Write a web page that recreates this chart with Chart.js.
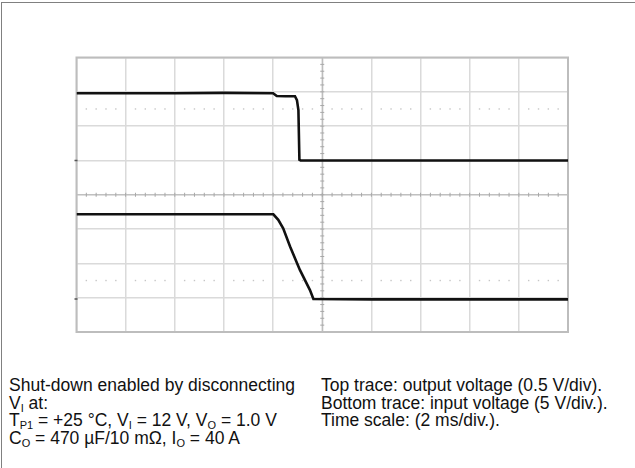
<!DOCTYPE html>
<html>
<head>
<meta charset="utf-8">
<script src="https://cdn.jsdelivr.net/npm/chart.js@4/dist/chart.umd.min.js"></script>
<style>
    html, body { margin: 0; padding: 0; background: #fff; }
    #page {
        position: relative;
        width: 635px;
        height: 468px;
        overflow: hidden;
        background: #fff;
        font-family: "Liberation Sans", Arial, sans-serif;
        color: #111;
    }
    #frame {
        position: absolute;
        left: 1px; top: 2px; right: -10px; bottom: -10px;
        border-top: 1px solid #808080;
        border-left: 1px solid #808080;
    }
    #scope { position: absolute; left: 0; top: 0; }
    .caption {
        position: absolute;
        top: 377px;
        font-size: 17.5px;
        line-height: 17.7px;
        white-space: nowrap;
    }
    .caption sub {
        font-size: 11px;
        vertical-align: -3px;
        line-height: 0;
    }
</style>
</head>
<body>
<div id="page">
    <div id="frame"></div>
    <canvas id="scope" width="635" height="345"></canvas>
    <div class="caption" style="left:9px;">
        Shut-down enabled by disconnecting<br>
        V<sub>I</sub> at:<br>
        T<sub>P1</sub> = +25 °C, V<sub>I</sub> = 12 V, V<sub>O</sub> = 1.0 V<br>
        C<sub>O</sub> = 470 µF/10 mΩ, I<sub>O</sub> = 40 A
    </div>
    <div class="caption" style="left:321px;">
        Top trace: output voltage (0.5 V/div).<br>
        Bottom trace: input voltage (5 V/div.).<br>
        Time scale: (2 ms/div.).
    </div>
</div>

<script>
// time in ms (2 ms/div), level in screen divisions (0 = bottom, 8 = top)
const topTime    = [0, 2, 4, 6, 8.0, 8.15, 8.5, 8.89, 8.97, 9.03, 9.07, 9.12, 12, 16, 20];
const topLevel   = [6.96, 6.96, 6.96, 6.97, 6.96, 6.88, 6.87, 6.87, 6.76, 6.47, 5.02, 5.0, 5.0, 5.0, 5.0];

const bottomTime  = [0, 4, 8.01, 8.21, 8.41, 8.69, 9.09, 9.50, 9.64, 12, 16, 20];
const bottomLevel = [3.43, 3.43, 3.43, 3.27, 3.02, 2.49, 1.81, 1.22, 0.96, 0.95, 0.95, 0.95];

// x grid: 0..20 ms every 2 ms, y grid: 0..8 div
const timeTicks  = [0, 2, 4, 6, 8, 10, 12, 14, 16, 18, 20];
const levelTicks = [0, 1, 2, 3, 4, 5, 6, 7, 8];

// dotted reference levels and channel ground markers
const refLevels    = [6.5, 1.5];
const groundLevels = [5.0, 0.96];

function toPoints(xs, ys) {
    return xs.map((x, i) => ({ x: x, y: ys[i] }));
}

// --- scope decorations: frame, center crosshair with minor ticks, dotted levels ---
const scopeDecor = {
    id: 'scopeDecor',
    beforeDatasetsDraw(chart) {
        const ctx = chart.ctx;
        const xs = chart.scales.x;
        const ys = chart.scales.y;
        const area = chart.chartArea;

        ctx.save();

        // dotted reference lines (4 dots per division)
        ctx.fillStyle = '#c6c6c6';
        refLevels.forEach(lv => {
            const py = ys.getPixelForValue(lv);
            for (let t = 0; t < 20; t += 0.4) {
                if (Math.abs(t % 2) < 0.01 || Math.abs(t % 2 - 2) < 0.01) continue;
                const px = xs.getPixelForValue(t);
                ctx.fillRect(px - 0.7, py - 0.7, 1.4, 1.4);
            }
        });

        // center crosshair
        const cx = xs.getPixelForValue(10);
        const cy = ys.getPixelForValue(4);
        ctx.strokeStyle = '#b8b8b8';
        ctx.lineWidth = 1.2;
        ctx.beginPath();
        ctx.moveTo(cx, area.top); ctx.lineTo(cx, area.bottom);
        ctx.moveTo(area.left, cy); ctx.lineTo(area.right, cy);
        ctx.stroke();

        ctx.strokeStyle = '#a8a8a8';
        ctx.lineWidth = 1;
        ctx.beginPath();
        for (let v = 0.2; v < 8; v += 0.2) {
            const py = ys.getPixelForValue(v);
            ctx.moveTo(cx - 2, py); ctx.lineTo(cx + 2, py);
        }
        for (let t = 0.4; t < 20; t += 0.4) {
            const px = xs.getPixelForValue(t);
            ctx.moveTo(px, cy - 2); ctx.lineTo(px, cy + 2);
        }
        ctx.stroke();

        // outer frame
        ctx.strokeStyle = '#bdbdbd';
        ctx.lineWidth = 2;
        ctx.strokeRect(area.left, area.top, area.right - area.left, area.bottom - area.top);

        // ground markers at left edge
        ctx.strokeStyle = '#555';
        ctx.lineWidth = 1.5;
        ctx.beginPath();
        groundLevels.forEach(lv => {
            const py = ys.getPixelForValue(lv);
            ctx.moveTo(area.left - 2, py); ctx.lineTo(area.left + 1, py);
        });
        ctx.stroke();

        ctx.restore();
    }
};

document.addEventListener('DOMContentLoaded', function() {
    const canvas = document.getElementById('scope');

    new Chart(canvas, {
        type: 'line',
        data: {
            datasets: [
                {
                    label: 'Output voltage',
                    data: toPoints(topTime, topLevel),
                    borderColor: '#111',
                    borderWidth: 2.6,
                    pointRadius: 0,
                    tension: 0
                },
                {
                    label: 'Input voltage',
                    data: toPoints(bottomTime, bottomLevel),
                    borderColor: '#111',
                    borderWidth: 2.6,
                    pointRadius: 0,
                    tension: 0
                }
            ]
        },
        options: {
            responsive: false,
            animation: false,
            layout: { padding: { left: 76.5, top: 57.5, right: 67, bottom: 13 } },
            plugins: {
                legend: { display: false },
                tooltip: { enabled: false }
            },
            scales: {
                x: {
                    type: 'linear',
                    min: 0,
                    max: 20,
                    afterBuildTicks: s => { s.ticks = timeTicks.map(v => ({ value: v })); },
                    afterFit: s => { s.height = 0; },
                    ticks: { display: false },
                    border: { display: false },
                    grid: { color: '#dadada', lineWidth: 1.5, drawTicks: false }
                },
                y: {
                    type: 'linear',
                    min: 0,
                    max: 8,
                    afterBuildTicks: s => { s.ticks = levelTicks.map(v => ({ value: v })); },
                    afterFit: s => { s.width = 0; },
                    ticks: { display: false },
                    border: { display: false },
                    grid: { color: '#dadada', lineWidth: 1.5, drawTicks: false }
                }
            }
        },
        plugins: [scopeDecor]
    });
});
</script>
</body>
</html>
